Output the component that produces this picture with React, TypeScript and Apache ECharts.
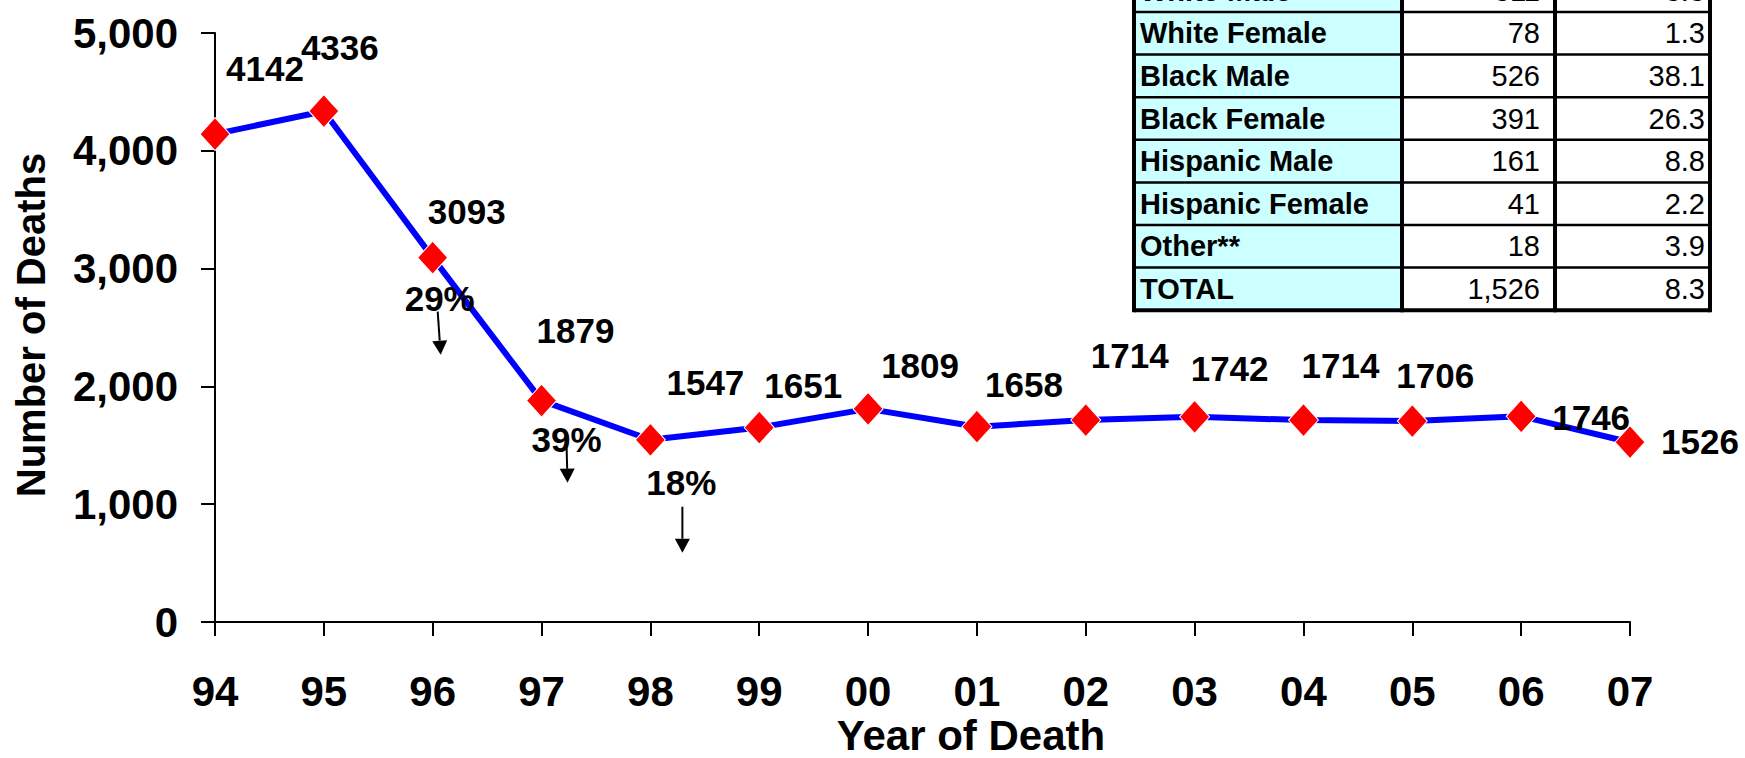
import React, { useEffect, useRef } from "react";
import * as echarts from "echarts";

// ---- Data ----
const years = ["94", "95", "96", "97", "98", "99", "00", "01", "02", "03", "04", "05", "06", "07"];
const deaths = [4142, 4336, 3093, 1879, 1547, 1651, 1809, 1658, 1714, 1742, 1714, 1706, 1746, 1526];
const yTicks = [0, 1000, 2000, 3000, 4000, 5000];

const dropLabels = ["29%", "39%", "18%"];
const dropAtIndex = [2, 3, 4];

const tableGroups = ["White Male", "White Female", "Black Male", "Black Female", "Hispanic Male", "Hispanic Female", "Other**", "TOTAL"];
const tableCounts = ["311", "78", "526", "391", "161", "41", "18", "1,526"];
const tableRates = ["3.3", "1.3", "38.1", "26.3", "8.8", "2.2", "3.9", "8.3"];

// ---- Layout (style only) ----
const labelOffsets: [number, number][] = [
  [50, -66], [16, -64], [34, -46], [34, -70], [55, -57], [44, -42], [52, -43],
  [47, -42], [44, -65], [35, -48], [37, -55], [23, -46], [70, 1], [70, -1],
];
const dropTextOffsets: [number, number][] = [[7, 41], [25, 39], [31, 43]];
const dropArrowFrom: [number, number][] = [[5, 54], [25, 44], [32, 67]];
const dropArrowTo: [number, number][] = [[8, 97], [26, 82], [32, 113]];

const FONT = '"Liberation Sans", Arial, Helvetica, sans-serif';

export default function App() {
  const ref = useRef<HTMLDivElement>(null);
  useEffect(() => {
    if (!ref.current) return;
    const chart = echarts.init(ref.current, null, { renderer: "svg" });

    const option: any = {
      animation: false,
      backgroundColor: "#ffffff",
      grid: { left: 215, right: 115, top: 33, bottom: 136 },
      xAxis: {
        type: "category",
        data: years,
        boundaryGap: false,
        axisLine: { lineStyle: { color: "#000", width: 2 } },
        axisTick: { length: 14, lineStyle: { color: "#000", width: 2 } },
        axisLabel: {
          fontSize: 42, fontWeight: "bold", color: "#000", fontFamily: FONT,
          margin: 69, verticalAlign: "middle",
        },
        splitLine: { show: false },
      },
      yAxis: {
        type: "value",
        min: yTicks[0],
        max: yTicks[yTicks.length - 1],
        interval: yTicks[1] - yTicks[0],
        axisLine: { show: true, lineStyle: { color: "#000", width: 2 } },
        axisTick: { show: true, length: 14, lineStyle: { color: "#000", width: 2 } },
        axisLabel: {
          fontSize: 42, fontWeight: "bold", color: "#000", fontFamily: FONT, margin: 37,
          formatter: (v: number) => v.toLocaleString("en-US"),
        },
        splitLine: { show: false },
      },
      series: [
        {
          type: "line",
          data: deaths.map((v, i) => ({ value: v, label: { offset: labelOffsets[i] } })),
          lineStyle: { color: "#0000FF", width: 6 },
          symbol: "diamond",
          symbolSize: [30, 33],
          itemStyle: { color: "#FF0000", borderColor: "#ffffff", borderWidth: 1 },
          label: {
            show: true, position: "inside", fontSize: 35, fontWeight: "bold",
            color: "#000", fontFamily: FONT, textBorderWidth: 0,
          },
          z: 3,
        },
      ],
    };
    chart.setOption(option);

    // Annotations anchored to data points
    const graphics: any[] = [];
    dropLabels.forEach((txt, k) => {
      const idx = dropAtIndex[k];
      const p = chart.convertToPixel({ seriesIndex: 0 }, [idx, deaths[idx]]) as number[];
      const to = [p[0] + dropArrowTo[k][0], p[1] + dropArrowTo[k][1]];
      const from = [p[0] + dropArrowFrom[k][0], p[1] + dropArrowFrom[k][1]];
      graphics.push({
        type: "text", z: 10,
        x: p[0] + dropTextOffsets[k][0], y: p[1] + dropTextOffsets[k][1],
        style: { text: txt, font: `bold 35px ${FONT}`, fill: "#000", align: "center", verticalAlign: "middle" },
      });
      const ang = Math.atan2(to[1] - from[1], to[0] - from[0]);
      const headLen = 14, headHalf = 7.5;
      const bx = to[0] - headLen * Math.cos(ang), by = to[1] - headLen * Math.sin(ang);
      const nx = -Math.sin(ang), ny = Math.cos(ang);
      graphics.push({
        type: "line", z: 10,
        shape: { x1: from[0], y1: from[1], x2: bx, y2: by },
        style: { stroke: "#000", lineWidth: 2 },
      });
      graphics.push({
        type: "polygon", z: 10,
        shape: { points: [[to[0], to[1]], [bx + nx * headHalf, by + ny * headHalf], [bx - nx * headHalf, by - ny * headHalf]] },
        style: { fill: "#000" },
      });
    });

    // Axis titles
    graphics.push({
      type: "text", z: 10, x: 971, y: 735,
      style: { text: "Year of Death", font: `bold 42px ${FONT}`, fill: "#000", align: "center", verticalAlign: "middle" },
    });
    graphics.push({
      type: "text", z: 10, x: 31, y: 325, rotation: Math.PI / 2,
      style: { text: "Number of Deaths", font: `bold 40px ${FONT}`, fill: "#000", align: "center", verticalAlign: "middle" },
    });

    // Table (top right, partly cut off)
    const tx0 = 1134, tx1 = 1400, tx2 = 1555, tx3 = 1710;
    const rowH = 42.6;
    const yStart = 12 - rowH; // first row is partly above the page
    const yEnd = yStart + rowH * tableGroups.length;
    graphics.push({ type: "rect", z: 20, shape: { x: tx0, y: yStart, width: tx1 - tx0, height: yEnd - yStart }, style: { fill: "#CCFFFF" } });
    graphics.push({ type: "rect", z: 20, shape: { x: tx1, y: yStart, width: tx3 - tx1, height: yEnd - yStart }, style: { fill: "#ffffff" } });
    tableGroups.forEach((g, r) => {
      const cy = yStart + rowH * (r + 0.5);
      graphics.push({ type: "text", z: 22, x: tx0 + 6, y: cy, style: { text: g, font: `bold 29px ${FONT}`, fill: "#000", align: "left", verticalAlign: "middle" } });
      graphics.push({ type: "text", z: 22, x: tx2 - 15, y: cy, style: { text: tableCounts[r], font: `29px ${FONT}`, fill: "#000", align: "right", verticalAlign: "middle" } });
      graphics.push({ type: "text", z: 22, x: tx3 - 5, y: cy, style: { text: tableRates[r], font: `29px ${FONT}`, fill: "#000", align: "right", verticalAlign: "middle" } });
      if (r > 0) {
        const ly = yStart + rowH * r;
        graphics.push({ type: "line", z: 23, shape: { x1: tx0, y1: ly, x2: tx3, y2: ly }, style: { stroke: "#000", lineWidth: 2.5 } });
      }
    });
    graphics.push({ type: "line", z: 23, shape: { x1: tx0, y1: yEnd, x2: tx3, y2: yEnd }, style: { stroke: "#000", lineWidth: 4 } });
    [tx0, tx1 + 2, tx2, tx3].forEach((vx) => {
      graphics.push({ type: "line", z: 23, shape: { x1: vx, y1: yStart, x2: vx, y2: yEnd + 2 }, style: { stroke: "#000", lineWidth: 4 } });
    });

    chart.setOption({ graphic: graphics });

    return () => chart.dispose();
  }, []);

  return (
    <div
      ref={ref}
      style={{ position: "fixed", left: 0, top: 0, width: 1745, height: 758, background: "#fff" }}
    />
  );
}
